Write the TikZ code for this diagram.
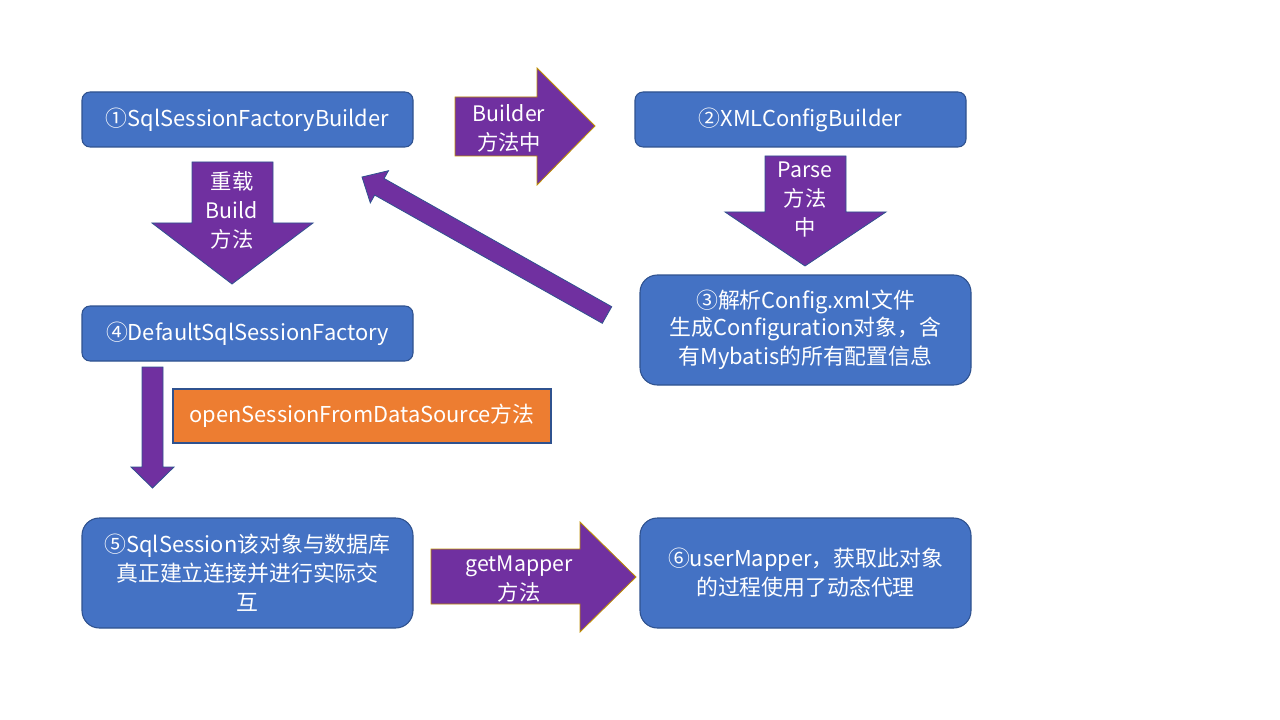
\documentclass[tikz,border=0pt]{standalone}
\usepackage{fontspec}
\setmainfont{Noto Sans CJK SC}
\definecolor{boxblue}{HTML}{4472C4}
\definecolor{boxedge}{HTML}{2F528F}
\definecolor{arrowpurple}{HTML}{7030A0}
\definecolor{goldedge}{HTML}{BF9000}
\definecolor{orangebox}{HTML}{ED7D31}
\tikzset{
  box/.style={draw=boxedge, line width=0.8pt, fill=boxblue, text=white, align=center,
    inner sep=0pt, font=\fontsize{16.4}{21.75}\selectfont},
  smallbox/.style={box, rounded corners=6pt, minimum width=248.25pt, minimum height=41.25pt},
  bigbox/.style={box, rounded corners=13pt, minimum width=248.25pt, minimum height=82.5pt},
  blockarrow/.style={fill=arrowpurple, draw=boxedge, line width=0.6pt},
  goldarrow/.style={fill=arrowpurple, draw=goldedge, line width=0.6pt},
  arrowtext/.style={text=white, align=center, inner sep=0pt, font=\fontsize{16}{21.75}\selectfont},
  lower/.style={yshift=-1.2pt},
}
\begin{document}
\begin{tikzpicture}[x=0.75pt,y=-0.75pt]
\useasboundingbox (0,0) rectangle (1280,720);
% boxes
\node[smallbox] (b1) at (247.5,119.5) {\raisebox{-1.2pt}{①SqlSessionFactoryBuilder}};
\node[smallbox] (b2) at (800.5,119.5) {\raisebox{-1.2pt}{②XMLConfigBuilder}};
\node[bigbox] (b3) at (805.5,330) {\raisebox{-1.2pt}{③解析Config.xml文件}\\生成Configuration对象，含\\有Mybatis的所有配置信息};
\node[smallbox] (b4) at (247.5,333.5) {\raisebox{-1.2pt}{④DefaultSqlSessionFactory}};
\node[bigbox] (b5) at (247.5,573) {⑤SqlSession该对象与数据库\\真正建立连接并进行实际交\\互};
\node[bigbox] (b6) at (805.5,573) {⑥userMapper，获取此对象\\的过程使用了动态代理};
\node[box, fill=orangebox, minimum width=283.5pt, minimum height=40.5pt] (o1) at (362,416) {\raisebox{-1.2pt}{openSessionFromDataSource方法}};
% arrow 1: Builder
\draw[goldarrow] (455,97) -- (537,97) -- (537,68) -- (595,126) -- (537,185) -- (537,156) -- (455,156) -- cycle;
\node[arrowtext, lower] (t1) at (509,126.5) {Builder\\方法中};
% arrow 2: down
\draw[blockarrow] (192,162) -- (273,162) -- (273,223) -- (313,223) -- (232,284) -- (152,223) -- (192,223) -- cycle;
\node[arrowtext, lower] (t2) at (232,209) {重载\\Build\\方法};
% arrow 3: Parse down
\draw[blockarrow] (765,156) -- (846,156) -- (846,212) -- (886,212) -- (805,266) -- (725,212) -- (765,212) -- cycle;
\node[arrowtext, lower] (t3) at (805,197.5) {Parse\\方法\\中};
% arrow 4: diagonal
\draw[blockarrow] (611.7,306.7) -- (384.1,178.5) -- (388.5,170.7) -- (362,177) -- (370.3,202.9) -- (374.7,195.1) -- (602.3,323.3) -- cycle;
% arrow 5: thin down
\draw[blockarrow] (142,367) -- (163,367) -- (163,467) -- (174,467) -- (152.5,488) -- (131,467) -- (142,467) -- cycle;
% arrow 6: getMapper
\draw[goldarrow] (431,549) -- (580,549) -- (580,522) -- (636,577) -- (580,632) -- (580,604) -- (431,604) -- cycle;
\node[arrowtext, lower] (t6) at (519,577.5) {getMapper\\方法};
\end{tikzpicture}
\end{document}
